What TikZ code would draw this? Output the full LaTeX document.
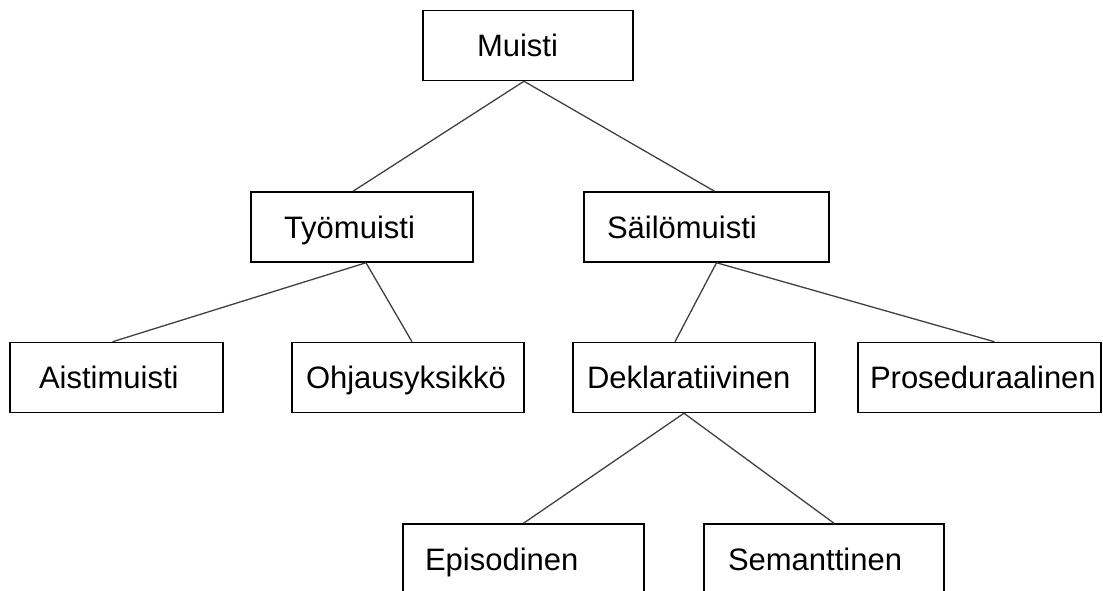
\documentclass[tikz,border=0pt]{standalone}
\usepackage{fontspec}
\setmainfont{Liberation Sans}
\usetikzlibrary{positioning}

\tikzset{box/.style 2 args={draw,line width=1.5pt,text width=#1,inner xsep=#2,align=left,
    minimum height=70pt,text height=22pt,text depth=0pt},
  link/.style={draw=black!75,line width=1.3pt}}

\begin{document}
\begin{tikzpicture}[x=1pt,y=1pt,on grid,font=\fontsize{31}{37}\selectfont]

\clip (0,0) rectangle (1103,-591);

\node[box={102pt}{54pt}]   (muisti)  at (528,-45.5)                        {Muisti};
\node[box={156pt}{33pt}]   (tyo)     [below left=181.5pt and 166pt of muisti]   {Työmuisti};
\node[box={199pt}{23pt}]   (sailo)   [below right=181.5pt and 178.5pt of muisti] {Säilömuisti};
\node[box={155pt}{29pt}]   (aisti)   [below left=150.5pt and 245.5pt of tyo]    {Aistimuisti};
\node[box={204pt}{14pt}]   (ohjaus)  [below right=150.5pt and 46pt of tyo]      {Ohjausyksikkö};
\node[box={214pt}{14pt}]   (deklar)  [below left=150.5pt and 12.5pt of sailo]   {Deklaratiivinen};
\node[box={219pt}{12pt}]   (prosed)  [right=285.5pt of deklar]                  {Proseduraalinen};
\node[box={197pt}{22pt}]   (episod)  [below left=181.5pt and 170.5pt of deklar] {Episodinen};
\node[box={192pt}{24pt}]   (semant)  [right=300.5pt of episod]                  {Semanttinen};

	\path[link] ([xshift=-4pt]muisti.south)  edge  ([xshift=-9pt]tyo.north)
	                                          edge  ([xshift=8pt]sailo.north)
	            ([xshift=4pt]tyo.south)     edge  ([xshift=-4pt]aisti.north)
	                                          edge  ([xshift=4pt]ohjaus.north)
	            ([xshift=10pt]sailo.south)  edge  ([xshift=-19pt]deklar.north)
	                                          edge  ([xshift=15pt]prosed.north)
	            ([xshift=-10pt]deklar.south) edge  (episod.north)
	                                          edge  ([xshift=10pt]semant.north);
\end{tikzpicture}
\end{document}
